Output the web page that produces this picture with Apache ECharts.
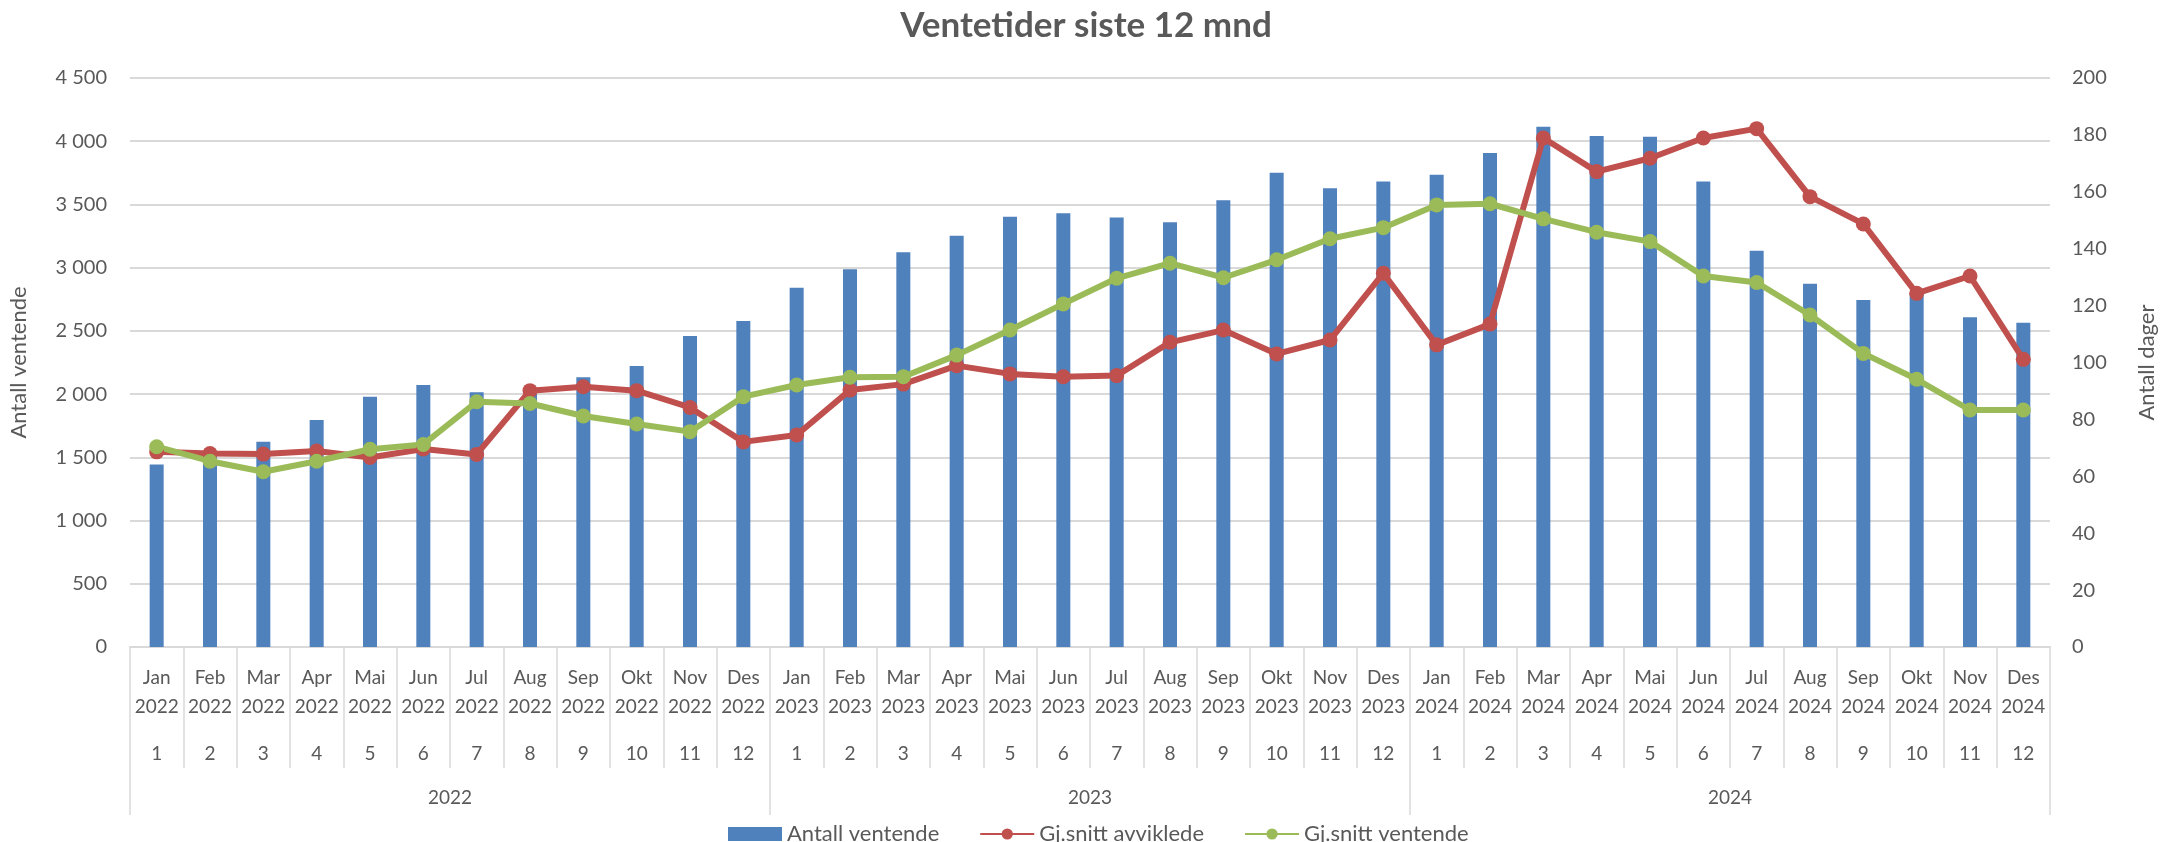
<!DOCTYPE html>
<html>
<head>
<meta charset="utf-8">
<script src="https://cdn.jsdelivr.net/npm/echarts@6/dist/echarts.min.js"></script>
<style>
  html, body { margin: 0; padding: 0; background: #fff; }
  #chart { width: 2172px; height: 842px; }
</style>
</head>
<body>
<div id="chart"></div>
<script>
// kategorier
var months = ['Jan', 'Feb', 'Mar', 'Apr', 'Mai', 'Jun', 'Jul', 'Aug', 'Sep', 'Okt', 'Nov', 'Des'];
var years = ['2022', '2023', '2024'];

// serier
var antallVentende = [
  1444, 1540, 1623, 1795, 1979, 2072, 2014, 2020, 2133, 2222, 2460, 2579,
  2842, 2988, 3122, 3252, 3402, 3431, 3397, 3360, 3534, 3750, 3629, 3682,
  3735, 3906, 4114, 4041, 4035, 3682, 3133, 2872, 2745, 2800, 2608, 2565
];
var gjsnittAvviklede = [
  68.6, 68.0, 67.8, 68.9, 66.6, 69.6, 67.7, 90.1, 91.5, 90.1, 84.2, 72.1,
  74.5, 90.3, 92.4, 98.9, 96.0, 95.0, 95.4, 107.1, 111.4, 103.0, 107.9, 131.4,
  106.2, 113.5, 178.9, 167.1, 171.8, 178.9, 182.2, 158.3, 148.7, 124.3, 130.4, 101.1
];
var gjsnittVentende = [
  70.4, 65.3, 61.6, 65.3, 69.5, 71.2, 86.2, 85.6, 81.2, 78.4, 75.7, 88.0,
  92.1, 94.8, 95.0, 102.6, 111.4, 120.6, 129.6, 134.9, 129.8, 136.1, 143.5, 147.4,
  155.4, 155.8, 150.5, 145.8, 142.5, 130.4, 128.1, 116.7, 103.2, 94.1, 83.3, 83.3
];

var categories = [];
years.forEach(function (y) {
  months.forEach(function (m, i) { categories.push(m + '|' + y + '|' + (i + 1)); });
});

var txt = '#595959';
var grey = '#D9D9D9';
var font = 'Lato';

function spaced(v) {
  return String(v).replace(/\B(?=(\d{3})+(?!\d))/g, ' ');
}

var chart = echarts.init(document.getElementById('chart'));
chart.setOption({
  backgroundColor: '#fff',
  animation: false,
  textStyle: { fontFamily: font, color: txt },
  title: {
    text: 'Ventetider siste 12 mnd',
    left: 'center',
    top: 3,
    textStyle: { fontSize: 35, fontWeight: 'bold', color: txt, fontFamily: font }
  },
  legend: {
    left: 723,
    top: 818,
    itemWidth: 54,
    itemHeight: 14,
    itemGap: 40,
    textStyle: { fontSize: 22, color: txt, fontFamily: font },
    data: [
      { name: 'Antall ventende', icon: 'rect' },
      'Gj.snitt avviklede',
      'Gj.snitt ventende'
    ]
  },
  grid: { left: 125, right: 122, top: 78, bottom: 195 },
  xAxis: [
    {
      type: 'category',
      data: categories,
      axisLine: { lineStyle: { color: grey, width: 2 } },
      axisTick: { show: true, interval: 0, length: 121, lineStyle: { color: grey, width: 1.5 } },
      axisLabel: {
        interval: 0,
        margin: 16,
        formatter: function (v) {
          var p = v.split('|');
          return '{m|' + p[0] + '}\n{m|' + p[1] + '}\n{n|' + p[2] + '}';
        },
        rich: {
          m: { fontSize: 19, lineHeight: 29, color: txt, fontFamily: font },
          n: { fontSize: 19, lineHeight: 65, color: txt, fontFamily: font }
        }
      }
    },
    {
      type: 'category',
      data: years,
      position: 'bottom',
      axisLine: { show: false },
      axisTick: { show: true, interval: 0, length: 168, lineStyle: { color: grey, width: 1.5 } },
      axisLabel: { interval: 0, margin: 141, fontSize: 19, color: txt, fontFamily: font }
    }
  ],
  yAxis: [
    {
      type: 'value',
      min: 0,
      max: 4500,
      interval: 500,
      name: 'Antall ventende',
      nameLocation: 'middle',
      nameRotate: 90,
      nameGap: 100,
      nameTextStyle: { fontSize: 22, color: txt, fontFamily: font },
      axisLine: { show: false },
      axisTick: { show: false },
      axisLabel: { fontSize: 20, color: txt, margin: 23, formatter: spaced },
      splitLine: { lineStyle: { color: grey, width: 2 } }
    },
    {
      type: 'value',
      min: 0,
      max: 200,
      interval: 20,
      name: 'Antall dager',
      nameLocation: 'middle',
      nameRotate: 90,
      nameGap: 86,
      nameTextStyle: { fontSize: 22, color: txt, fontFamily: font },
      axisLine: { show: false },
      axisTick: { show: false },
      axisLabel: { fontSize: 20, color: txt, margin: 22 },
      splitLine: { show: false }
    }
  ],
  series: [
    {
      name: 'Antall ventende',
      type: 'bar',
      xAxisIndex: 0,
      yAxisIndex: 0,
      barWidth: 14,
      itemStyle: { color: '#4F81BD' },
      data: antallVentende
    },
    {
      name: 'Gj.snitt avviklede',
      type: 'line',
      xAxisIndex: 0,
      yAxisIndex: 1,
      symbol: 'circle',
      symbolSize: 15,
      lineStyle: { color: '#C0504D', width: 6 },
      itemStyle: { color: '#C0504D' },
      data: gjsnittAvviklede
    },
    {
      name: 'Gj.snitt ventende',
      type: 'line',
      xAxisIndex: 0,
      yAxisIndex: 1,
      symbol: 'circle',
      symbolSize: 15,
      lineStyle: { color: '#9BBB59', width: 6 },
      itemStyle: { color: '#9BBB59' },
      data: gjsnittVentende
    }
  ]
});
</script>
</body>
</html>
